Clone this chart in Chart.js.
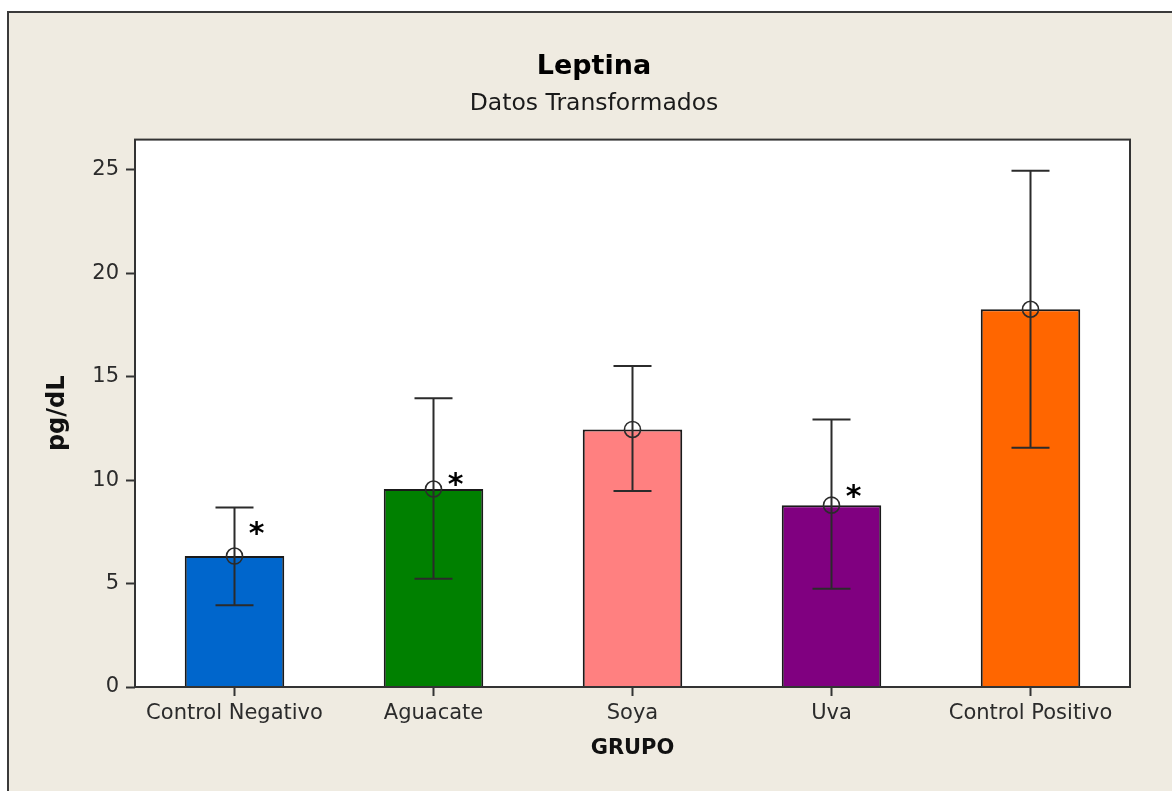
<!DOCTYPE html>
<html>
<head>
<meta charset="utf-8">
<script src="https://cdn.jsdelivr.net/npm/chart.js@4.4.1/dist/chart.umd.min.js"></script>
<style>
  html, body { margin: 0; padding: 0; overflow: hidden; background: #ffffff; }
  #wrap { position: relative; width: 1172px; height: 791px; }
</style>
</head>
<body>
<div id="wrap"><canvas id="chart" width="1172" height="791"></canvas></div>
<script>
// Leptina por grupo (datos transformados): media con intervalo
const groups = ['Control Negativo', 'Aguacate', 'Soya', 'Uva', 'Control Positivo'];
const means = [6.33, 9.57, 12.45, 8.79, 18.26];
const upper = [8.68, 13.96, 15.52, 12.93, 24.96];
const lower = [3.95, 5.23, 9.48, 4.75, 11.56];
// height (pg/dL) of the significance asterisk; null = no mark
const starLevel = [7.68, 10.04, null, 9.45, null];
const barColors = ['#0066CC', '#008000', '#FF8080', '#800080', '#FF6600'];
const yTicks = [0, 5, 10, 15, 20, 25];
const yMax = 26.46;

const FONT = "'DejaVu Sans', 'Verdana', sans-serif";
const INK = '#2b2b2b';

const decorations = {
  id: 'decorations',
  beforeDraw(chart) {
    const { ctx, width, height, chartArea: a } = chart;
    ctx.save();
    ctx.fillStyle = '#ffffff';
    ctx.fillRect(0, 0, width, height);
    ctx.fillStyle = '#EFEBE1';
    ctx.fillRect(8, 12, width - 8, height - 12);
    ctx.strokeStyle = '#3a3a3a';
    ctx.lineWidth = 2;
    ctx.beginPath();
    ctx.moveTo(8, height);
    ctx.lineTo(8, 12);
    ctx.lineTo(width, 12);
    ctx.stroke();
    ctx.fillStyle = '#ffffff';
    ctx.fillRect(a.left, a.top, a.width, a.height);
    ctx.restore();
  },
  afterDatasetsDraw(chart) {
    const { ctx, chartArea: a } = chart;
    const ys = chart.scales.y;
    const meta = chart.getDatasetMeta(0);
    ctx.save();
    meta.data.forEach((bar, i) => {
      const x = bar.x;
      const yt = ys.getPixelForValue(upper[i]);
      const yb = ys.getPixelForValue(lower[i]);
      const ym = ys.getPixelForValue(means[i]);
      const cap = 19;
      ctx.strokeStyle = INK;
      ctx.lineWidth = 2;
      ctx.beginPath();
      ctx.moveTo(x, yt); ctx.lineTo(x, yb);
      ctx.moveTo(x - cap, yt); ctx.lineTo(x + cap, yt);
      ctx.moveTo(x - cap, yb); ctx.lineTo(x + cap, yb);
      ctx.stroke();
      ctx.lineWidth = 1.6;
      ctx.beginPath();
      ctx.arc(x, ym, 8, 0, Math.PI * 2);
      ctx.stroke();
      if (starLevel[i] !== null) {
        ctx.font = 'bold 30px ' + FONT;
        ctx.fillStyle = '#000000';
        ctx.textAlign = 'center';
        ctx.textBaseline = 'alphabetic';
        const m = ctx.measureText('*');
        const cy = ys.getPixelForValue(starLevel[i]);
        ctx.fillText('*', x + 22, cy + (m.actualBoundingBoxAscent - m.actualBoundingBoxDescent) / 2);
      }
    });
    ctx.strokeStyle = '#333333';
    ctx.lineWidth = 2;
    ctx.strokeRect(a.left, a.top, a.width, a.height);
    ctx.restore();
  }
};

new Chart(document.getElementById('chart'), {
  type: 'bar',
  data: {
    labels: groups,
    datasets: [{
      data: means,
      backgroundColor: barColors,
      borderColor: '#1a1a1a',
      borderWidth: 2,
      barPercentage: 0.5,
      categoryPercentage: 1.0
    }]
  },
  options: {
    responsive: false,
    animation: false,
    devicePixelRatio: 1,
    layout: { padding: { top: 12, right: 42, bottom: 0, left: 58 } },
    plugins: {
      legend: { display: false },
      tooltip: { enabled: false },
      title: {
        display: true,
        text: 'Leptina',
        color: '#000000',
        font: { family: FONT, size: 27, weight: 'bold' },
        padding: { top: 38.5, bottom: 0 }
      },
      subtitle: {
        display: true,
        text: 'Datos Transformados',
        color: '#1a1a1a',
        font: { family: FONT, size: 23.5, weight: 'normal' },
        padding: { top: 6.6, bottom: 21.9 }
      }
    },
    scales: {
      x: {
        type: 'category',
        offset: true,
        afterFit(s) { s.height = 104; },
        grid: {
          offset: false,
          drawOnChartArea: false,
          drawTicks: true,
          tickLength: 9,
          tickWidth: 2,
          tickColor: '#333333'
        },
        border: { display: false },
        ticks: {
          color: INK,
          font: { family: FONT, size: 21 },
          padding: 5,
          maxRotation: 0,
          autoSkip: false
        },
        title: {
          display: true,
          text: 'GRUPO',
          color: '#111111',
          font: { family: FONT, size: 21, weight: 'bold' },
          padding: { top: 0, bottom: 29.4 }
        }
      },
      y: {
        min: 0,
        max: yMax,
        afterFit(s) { s.width = 77; },
        afterBuildTicks(s) { s.ticks = yTicks.map(v => ({ value: v })); },
        grid: {
          drawOnChartArea: false,
          drawTicks: true,
          tickLength: 9,
          tickWidth: 2,
          tickColor: '#333333'
        },
        border: { display: false },
        ticks: {
          color: INK,
          font: { family: FONT, size: 21 },
          padding: 7
        },
        title: {
          display: true,
          text: 'pg/dL',
          color: '#111111',
          font: { family: FONT, size: 24, weight: 'bold' },
          padding: { top: -14.4, bottom: 0 }
        }
      }
    }
  },
  plugins: [decorations]
});
</script>
</body>
</html>
